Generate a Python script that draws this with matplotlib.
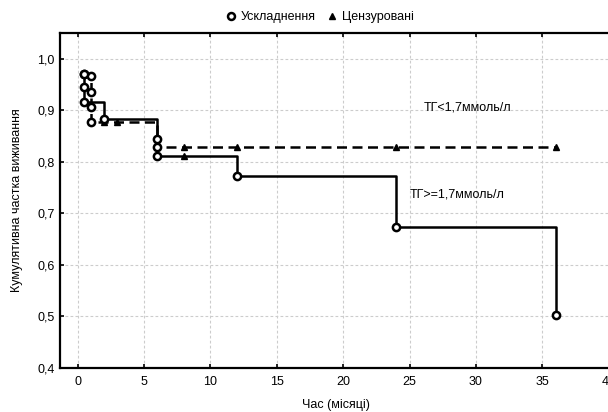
import numpy as np
import matplotlib
matplotlib.use('Agg')
import matplotlib.pyplot as plt
from matplotlib.lines import Line2D
from matplotlib.ticker import FuncFormatter

plt.rcParams['font.family'] = ['Liberation Sans', 'DejaVu Sans']
plt.rcParams['font.size'] = 9

# TG < 1.7 mmol/l (dashed); status 1 = event (circle), 0 = censored (triangle)
low_t = [0.5, 1, 1, 1, 1, 2, 3, 6, 8, 12, 24, 36]
low_s = [0.970, 0.967, 0.936, 0.907, 0.877, 0.877, 0.877, 0.829, 0.829, 0.829, 0.829, 0.829]
low_status = [1, 1, 1, 1, 1, 0, 0, 1, 0, 0, 0, 0]

# TG >= 1.7 mmol/l (solid)
high_t = [0.5, 0.5, 0.5, 2, 6, 6, 8, 12, 24, 36]
high_s = [0.971, 0.945, 0.916, 0.884, 0.845, 0.812, 0.812, 0.772, 0.674, 0.503]
high_status = [1, 1, 1, 1, 1, 1, 0, 1, 1, 1]

x_ticks = [0, 5, 10, 15, 20, 25, 30, 35, 40]
y_ticks = [0.4, 0.5, 0.6, 0.7, 0.8, 0.9, 1.0]


def plot_curve(ax, t, s, status, ls):
    t = np.array(t)
    s = np.array(s)
    status = np.array(status)
    ax.step(t, s, where='post', color='black', lw=1.8, linestyle=ls, zorder=3)
    ev = status == 1
    ax.plot(t[ev], s[ev], 'o', ms=5.2, mfc='white', mec='black', mew=1.8, zorder=4)
    ax.plot(t[~ev], s[~ev], '^', ms=4.5, color='black', zorder=4)


fig = plt.figure(figsize=(6.08, 4.12), dpi=100)
ax = fig.add_axes([60 / 608, 44 / 412, 562 / 608, 335 / 412])

plot_curve(ax, low_t, low_s, low_status, (0, (4, 2.2)))
plot_curve(ax, high_t, high_s, high_status, '-')

ax.text(26.1, 0.905, 'ТГ<1,7ммоль/л', va='center', ha='left')
ax.text(25.0, 0.736, 'ТГ>=1,7ммоль/л', va='center', ha='left')

ax.set_xlim(-1.32, 41)
ax.set_ylim(0.4, 1.05)
ax.set_xticks(x_ticks)
ax.set_yticks(y_ticks)
ax.yaxis.set_major_formatter(FuncFormatter(lambda v, p: ('%.1f' % v).replace('.', ',')))
ax.tick_params(direction='in', length=3, width=1.2, top=True, right=True)
ax.tick_params(axis='x', pad=6)
ax.tick_params(axis='y', pad=4)
for sp in ax.spines.values():
    sp.set_linewidth(1.6)

ax.grid(True, color='#cccccc', linestyle=(0, (2.5, 2)), lw=0.8)
ax.set_axisbelow(True)

ax.set_xlabel('Час (місяці)')
ax.xaxis.set_label_coords(0.491, -0.093)
ax.set_ylabel('Кумулятивна частка виживання')
ax.yaxis.set_label_coords(-0.066, 0.5)

handles = [
    Line2D([], [], marker='o', ls='none', ms=5, mfc='white', mec='black', mew=1.8),
    Line2D([], [], marker='^', ls='none', ms=4.5, color='black'),
]
fig.legend(handles, ['Ускладнення', 'Цензуровані'], loc='center', bbox_to_anchor=(0.525, 0.958),
           ncol=2, frameon=False, handletextpad=0.3, columnspacing=0.8, handlelength=1)

fig.savefig('out.png', dpi=100)
